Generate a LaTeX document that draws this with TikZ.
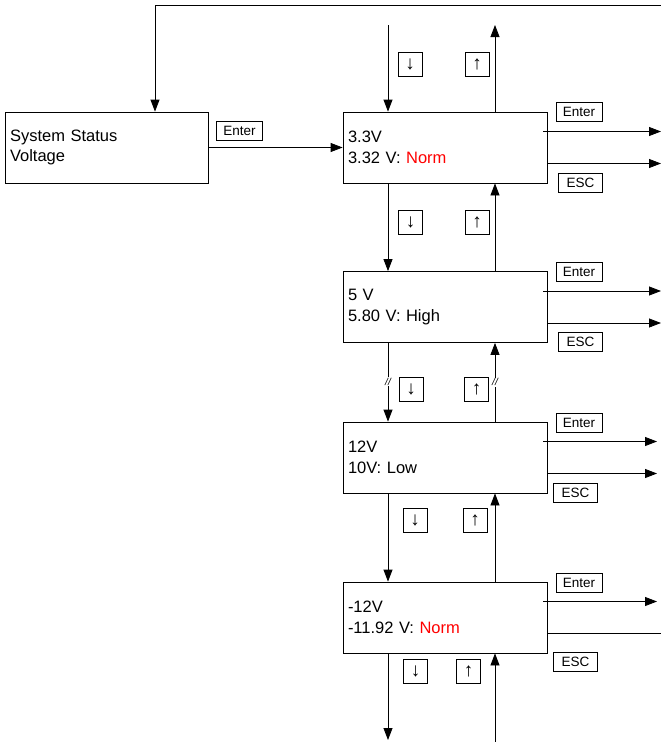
\documentclass[tikz,border=0pt]{standalone}
\usepackage{fontspec}
\setmainfont{Liberation Sans}
\usetikzlibrary{arrows.meta, positioning}
\tikzset{every node/.append style={align=left}}
\definecolor{normred}{RGB}{255,0,0}

\begin{document}
\begin{tikzpicture}[x=1pt,y=-1pt,
  arr/.style={-{Triangle[length=12pt,width=9pt]}, line width=0.8pt},
  line/.style={line width=0.8pt},
  menubox/.style={draw, line width=0.8pt, inner sep=0pt,
                  minimum width=204pt, minimum height=71pt, text width=194pt,
                  font=\fontsize{16.5}{20.5}\selectfont},
  keybox/.style={draw, line width=0.6pt, inner sep=0pt, minimum height=19pt,
                 font=\fontsize{13.5}{13.5}\selectfont, align=center},
  arrowkey/.style={draw, line width=0.6pt, inner sep=0pt, minimum width=24pt,
                   minimum height=24pt, font=\fontsize{19}{19}\selectfont, align=center},
  brk/.style={fill=white, inner sep=1pt, font=\fontsize{10}{10}\itshape}]

\useasboundingbox (0,0) rectangle (661,742);

% ── Menu screens ─────────────────────────────────────────────────────────────
\node[menubox, minimum width=203pt, text width=193pt] (sys) at (106.5,147.5)
      {System Status\\Voltage};
\node[menubox] (v33)  at (445,147.5) {3.3V\\3.32 V: \textcolor{normred}{Norm}};
\node[menubox] (v5)   at (445,307)   {5 V\\5.80 V: High};
\node[menubox] (v12)  at (445,457.5) {12V\\10V: Low};
\node[menubox] (vm12) at (445,617.5) {-12V\\-11.92 V: \textcolor{normred}{Norm}};

% ── Key labels ───────────────────────────────────────────────────────────────
\node[keybox, minimum width=46pt] (sysenter) at (239.5,131) {Enter};
\foreach \b/\ey/\ex/\sy in {v33/111.5/580.5/183, v5/271.5/580.5/341.5,
                             v12/422.5/575.5/492.5, vm12/582.5/575.5/661.5} {
  \node[keybox, minimum width=46pt] (\b enter) at (579,\ey) {Enter};
  \node[keybox, minimum width=44pt] (\b esc)   at (\ex,\sy) {ESC};
}
\foreach \n/\dx/\ux/\y in {1/410/477/64, 2/410.5/477/222.5, 3/411/476.5/389.5,
                            4/415/475/520.5, 5/415.5/468.5/671.5} {
  \node[arrowkey] (dn\n) at (\dx,\y) {↓};
  \node[arrowkey] (up\n) at (\ux,\y) {↑};
}

% ── Free ends ────────────────────────────────────────────────────────────────
\coordinate (topR) at (661,5);
\coordinate (topL) at (155,5);
\coordinate (inT)  at (388,25);
\coordinate (outT) at (495,25);
\coordinate (inB)  at (495,742);
\coordinate (outB) at (388,740);
\coordinate (rimA) at (661,0);
\coordinate (rimB) at (657,0);

% ── Connectors ───────────────────────────────────────────────────────────────
\draw[arr] (topR) -- (topL) -- (topL |- sys.north);
\draw[arr] (sys.east) -- (v33.west);
\draw[arr] (inT) -- (inT |- v33.north);
\draw[arr] (v33.north -| outT) -- (outT);

\foreach \a/\b in {v33/v5, v12/vm12} {
  \draw[arr] ([xshift=-57pt]\a.south) -- ([xshift=-57pt]\b.north);
  \draw[arr] ([xshift=50pt]\b.north) -- ([xshift=50pt]\a.south);
}
\draw[arr] ([xshift=-57pt]v5.south) -- node[brk, pos=0.49] {//} ([xshift=-57pt]v12.north);
\draw[arr] ([xshift=50pt]v12.north) -- node[brk, pos=0.5] {//} ([xshift=50pt]v5.south);

\draw[arr] (vm12.south -| outB) -- (outB);
\draw[arr] (inB) -- (inB |- vm12.south);

% Enter / ESC exits
\foreach \b/\r in {v33/rimA, v5/rimA} {
  \draw[arr] ([xshift=-4pt,yshift=16pt]\b.east) -- ([yshift=16pt]\b.east -| \r);
  \draw[arr] ([yshift=-16pt]\b.east) -- ([yshift=-16pt]\b.east -| \r);
}
\draw[arr] ([xshift=-4pt,yshift=16pt]v12.east) -- ([yshift=16pt]v12.east -| rimB);
\draw[arr] ([yshift=-16pt]v12.east) -- ([yshift=-16pt]v12.east -| rimB);
\draw[arr] ([xshift=-4pt,yshift=16pt]vm12.east) -- ([yshift=16pt]vm12.east -| rimB);
\draw[line] ([yshift=-16pt]vm12.east) -- ([yshift=-16pt]vm12.east -| rimA);

\end{tikzpicture}
\end{document}
